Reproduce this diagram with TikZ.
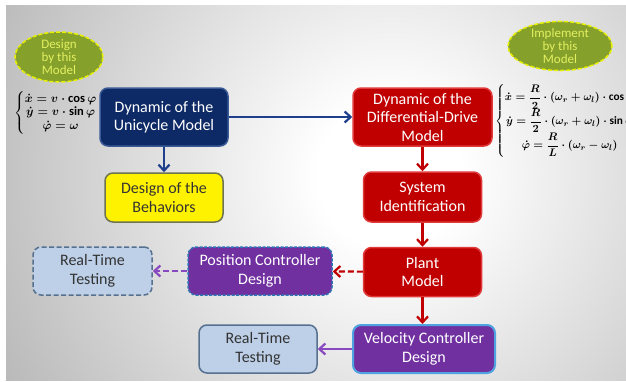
\documentclass[tikz,border=0pt]{standalone}
\usepackage{amsmath}
\usepackage{fontspec}
\setmainfont{Carlito}
\usetikzlibrary{shapes.geometric,arrows.meta}
\definecolor{navy}{HTML}{0E2A66}
\definecolor{navyb}{HTML}{3A5A96}
\definecolor{navyarr}{HTML}{1F3E8C}
\definecolor{dred}{HTML}{C00000}
\definecolor{dredb}{HTML}{E03A3A}
\definecolor{purp}{HTML}{7030A0}
\definecolor{purparr}{HTML}{8A48C0}
\definecolor{posb}{HTML}{2E75B6}
\definecolor{velb}{HTML}{4FA3E0}
\definecolor{rtfill}{HTML}{BDD0E8}
\definecolor{rtb}{HTML}{56708F}
\definecolor{behb}{HTML}{6E7350}
\definecolor{olive}{HTML}{86A02C}
\definecolor{olivetext}{HTML}{E2F060}
\definecolor{olivebord}{HTML}{E6F000}
\definecolor{darktext}{HTML}{333333}
\pgfdeclareradialshading{bgshade}{\pgfpoint{0bp}{0bp}}{color(0bp)=(white); color(4bp)=(white); color(24bp)=(black!27); color(50bp)=(black!42)}
\newsavebox\eqlbox
\newsavebox\eqrbox
\begin{document}
\sbox\eqlbox{\fontsize{12.5}{14}\selectfont\boldmath\renewcommand\arraystretch{0.97}%
  $\left\{\begin{array}{@{}c@{}}\dot x = v\cdot\cos\varphi\\ \dot y = v\cdot\sin\varphi\\ \dot\varphi=\omega\end{array}\right.$}
\sbox\eqrbox{\fontsize{11.3}{13}\selectfont\boldmath
  $\left\{\begin{array}{@{}c@{}}\dot x = \dfrac{R}{2}\cdot(\omega_r+\omega_l)\cdot\cos\varphi\\[0pt] \dot y = \dfrac{R}{2}\cdot(\omega_r+\omega_l)\cdot\sin\varphi\\[0pt] \dot\varphi=\dfrac{R}{L}\cdot(\omega_r-\omega_l)\end{array}\right.$}
\begin{tikzpicture}[x=1pt,y=-1pt,
  box/.style={rectangle, rounded corners=8pt, align=center, line width=1.5pt,
    font=\fontsize{16}{18.5}\selectfont, inner sep=0pt},
  bluebox/.style={box, fill=navy, draw=navyb, text=white},
  redbox/.style={box, fill=dred, draw=dredb, text=white},
  yelbox/.style={box, fill=yellow, draw=behb, text=darktext},
  posbox/.style={box, fill=purp, draw=posb, dash pattern=on 3pt off 1.5pt, text=white},
  velbox/.style={box, fill=purp, draw=velb, line width=2pt, text=white},
  rtbox/.style={box, fill=rtfill, draw=rtb, text=darktext},
  oval/.style={ellipse, fill=olive, draw=olivebord, dash pattern=on 4pt off 2pt, line width=1.5pt,
    text=olivetext, align=center, inner sep=0pt, font=\fontsize{13}{12.8}\selectfont},
  arr/.style={line width=2.2pt, -{Straight Barb[length=6pt,width=11pt]}},
  dsh/.style={dash pattern=on 6pt off 3pt},
  eqnode/.style={inner sep=0pt, text=darktext}
]
\fill[white] (0,0) rectangle (626,381);
\begin{scope}
  \clip (6,5) rectangle (626,380);
  \shade[shading=bgshade] (390,175) circle[radius=450];
\end{scope}
\useasboundingbox (0,0) rectangle (626,381);

% ovals
\node[oval, minimum width=88pt, minimum height=50pt] (ovl) at (59,57) {Design\\by this\\Model};
\node[oval, minimum width=104pt, minimum height=48pt] (ovr) at (560,46) {Implement\\by this\\Model};

% boxes
\node[bluebox, minimum width=128pt, minimum height=58pt] (uni) at (164,117) {Dynamic of the\\Unicycle Model};
\node[yelbox, minimum width=118pt, minimum height=49pt] (beh) at (164,197.5) {Design of the\\Behaviors};
\node[redbox, minimum width=139pt, minimum height=58pt] (diff) at (422.5,117) {Dynamic of the\\Differential-Drive\\Model};
\node[redbox, minimum width=118pt, minimum height=50pt] (sys) at (422.5,197) {System\\Identification};
\node[redbox, minimum width=118pt, minimum height=49pt] (plant) at (422.5,272) {Plant\\Model};
\node[posbox, minimum width=144pt, minimum height=48pt] (pos) at (260,271) {Position Controller\\Design};
\node[rtbox, dash pattern=on 5pt off 2.5pt, minimum width=119pt, minimum height=48pt] (rt1) at (92.5,271) {Real-Time\\Testing};
\node[velbox, minimum width=142pt, minimum height=48pt] (vel) at (424,349) {Velocity Controller\\Design};
\node[rtbox, minimum width=118pt, minimum height=48pt] (rt2) at (258,349) {Real-Time\\Testing};

% equations
\node[eqnode, anchor=west] (eql) at (14,113) {\usebox\eqlbox};
\begin{scope}
  \clip (0,0) rectangle (626,381);
  \node[eqnode, anchor=west] (eqr) at (495,121) {\usebox\eqrbox};
\end{scope}

% connectors
\draw[arr, navyarr] (uni) -- (diff);
\draw[arr, navyarr] (uni) -- (beh);
\draw[arr, dred] (diff) -- (sys);
\draw[arr, dred] (sys) -- (plant);
\draw[arr, dred] (plant) -- (vel.north -| plant);
\draw[arr, dred, dsh] (plant) -- (pos);
\draw[arr, purparr, dsh] (pos) -- (rt1);
\draw[arr, purparr] (vel) -- (rt2);
\end{tikzpicture}
\end{document}
